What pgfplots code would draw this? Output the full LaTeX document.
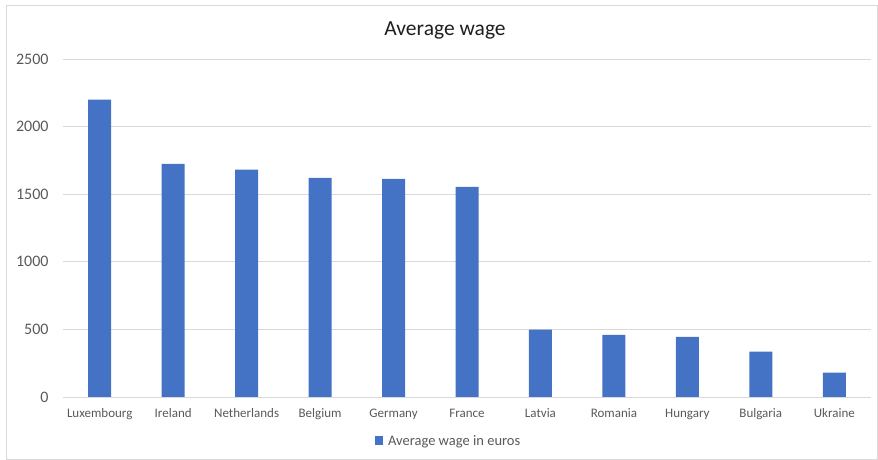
\documentclass[border=0pt]{standalone}
\usepackage{pgfplots}
\pgfplotsset{compat=1.18}
\usepackage{fontspec}
\setmainfont{Carlito}
\definecolor{barblue}{HTML}{4472C4}
\definecolor{gridgray}{HTML}{D9D9D9}
\definecolor{labgray}{HTML}{595959}
\definecolor{titlecol}{HTML}{1F1F1F}
\begin{document}
\begin{tikzpicture}[x=1pt,y=1pt]
\path[use as bounding box] (0,0) rectangle (878,460);
\draw[gridgray, line width=0.8pt] (6.5,0.5) rectangle (877,455);
\node[text=titlecol, font=\fontsize{21.5}{24}\selectfont] at (445,430) {Average wage};
\begin{axis}[
  at={(63pt,63pt)}, anchor=south west,
  scale only axis, width=808pt, height=338pt,
  ybar, bar width=23pt,
  xmin=-0.5, xmax=10.5, ymin=0, ymax=2500,
  xtick=data,
  xticklabels={Luxembourg,Ireland,Netherlands,Belgium,Germany,France,Latvia,Romania,Hungary,Bulgaria,Ukraine},
  ytick={0,500,1000,1500,2000,2500},
  ymajorgrids, grid style={gridgray, line width=0.8pt},
  axis x line*=bottom, axis y line*=left,
  x axis line style={gridgray, line width=0.8pt, -},
  y axis line style={draw=none},
  major tick length=0pt,
  /pgf/number format/assume math mode=true,
  /pgf/number format/1000 sep={},
  xticklabel style={text=labgray, font=\fontsize{13}{15}\selectfont, anchor=north, text height=9pt, text depth=3pt, yshift=-8pt},
  yticklabel style={text=labgray, font=\fontsize{16}{18}\selectfont, anchor=east, xshift=-11pt},
  legend style={at={(0.477,-0.13)}, anchor=center, draw=none, fill=none,
    font=\fontsize{14.5}{16}\selectfont, text=labgray, legend columns=1,
    /tikz/every odd column/.append style={column sep=3pt}},
  legend image code/.code={\fill[#1] (0pt,-4pt) rectangle (8.5pt,4.5pt);},
  clip=false,
]
\addplot[fill=barblue, draw=none] coordinates {
(0,2200) (1,1725) (2,1682) (3,1620) (4,1613) (5,1554) (6,498) (7,459) (8,444) (9,335) (10,180)
};
\addlegendentry{Average wage in euros}
\end{axis}
\end{tikzpicture}
\end{document}
